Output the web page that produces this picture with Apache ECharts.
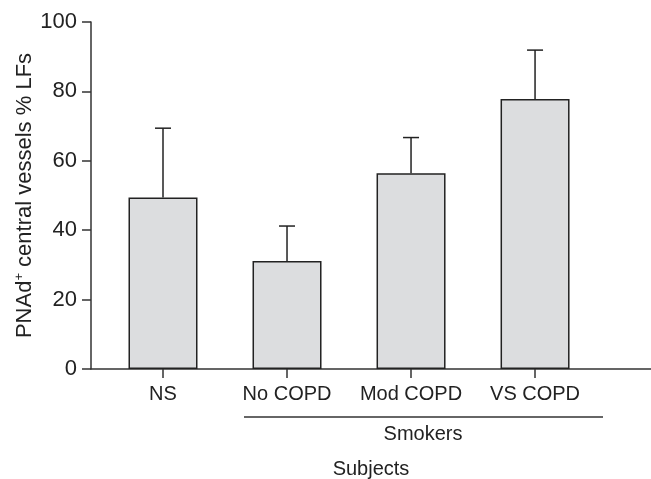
<!DOCTYPE html>
<html>
<head>
<meta charset="utf-8">
<script src="https://cdn.jsdelivr.net/npm/echarts@6/dist/echarts.min.js"></script>
<style>
  html, body { margin: 0; padding: 0; background: #fff; }
  #main { width: 651px; height: 479px; }
</style>
</head>
<body>
<div id="main"></div>
<script>
// groups on the x axis
var categories = ['NS', 'No COPD', 'Mod COPD', 'VS COPD'];
// bar heights (mean) and top of error bar
var means = [49.4, 31.1, 56.4, 77.8];
var upper = [69.4, 41.2, 66.7, 91.9];
var yTicks = [0, 20, 40, 60, 80, 100];

var ink = '#222';
var font = 'Liberation Sans, Arial, sans-serif';
var chart = echarts.init(document.getElementById('main'));

var barData = means.map(function (v, i) { return [i, v]; });
var errData = means.map(function (v, i) { return [i, v, upper[i]]; });

chart.setOption({
  animation: false,
  grid: { left: 91, right: 0, top: 22, bottom: 110, outerBoundsMode: 'none', containLabel: false },
  xAxis: {
    type: 'value',
    min: -0.5806,
    max: 3.935,
    splitLine: { show: false },
    axisLine: { show: true, onZero: false, lineStyle: { color: '#333', width: 1.5 } },
    axisTick: { show: true, length: 9, customValues: [0, 1, 2, 3], lineStyle: { color: '#333', width: 1.5 } },
    axisLabel: {
      customValues: [0, 1, 2, 3],
      margin: 15,
      fontSize: 20,
      fontFamily: font,
      color: ink,
      formatter: function (v) { return categories[Math.round(v)]; }
    },
    name: 'Subjects',
    nameLocation: 'middle',
    nameGap: 90,
    nameMoveOverlap: false,
    nameTextStyle: { fontSize: 20, fontFamily: font, color: ink }
  },
  yAxis: {
    type: 'value',
    min: yTicks[0],
    max: yTicks[yTicks.length - 1],
    interval: 20,
    splitLine: { show: false },
    axisLine: { show: true, onZero: false, lineStyle: { color: '#333', width: 1.5 } },
    axisTick: { show: true, length: 9, lineStyle: { color: '#333', width: 1.5 } },
    axisLabel: {
      margin: 14,
      fontSize: 22,
      fontFamily: font,
      color: ink
    },
    name: 'PNAd{sup|+} central vessels % LFs',
    nameLocation: 'middle',
    nameGap: 54,
    nameMoveOverlap: false,
    nameTextStyle: {
      fontSize: 22,
      fontFamily: font,
      color: ink,
      rich: {
        sup: { fontSize: 13, fontFamily: font, color: ink, padding: [0, 0, 11, 0] }
      }
    }
  },
  series: [
    {
      type: 'bar',
      data: barData,
      barWidth: 69,
      itemStyle: { color: '#dcdddf', borderColor: ink, borderWidth: 1.5 },
      z: 2
    },
    {
      type: 'custom',
      data: errData,
      z: 1,
      renderItem: function (params, api) {
        var base = api.coord([api.value(0), api.value(1)]);
        var top = api.coord([api.value(0), api.value(2)]);
        return {
          type: 'group',
          children: [
            { type: 'line', shape: { x1: top[0], y1: base[1], x2: top[0], y2: top[1] }, style: { stroke: ink, lineWidth: 1.5 } },
            { type: 'line', shape: { x1: top[0] - 8, y1: top[1], x2: top[0] + 8, y2: top[1] }, style: { stroke: ink, lineWidth: 1.5 } }
          ]
        };
      }
    }
  ]
});

// "Smokers" bracket under the last three groups
var p1 = chart.convertToPixel({ gridIndex: 0 }, [0.653, 0]);
var p2 = chart.convertToPixel({ gridIndex: 0 }, [3.548, 0]);
var pc = chart.convertToPixel({ gridIndex: 0 }, [2.097, 0]);
chart.setOption({
  graphic: [
    { type: 'line', shape: { x1: p1[0], y1: p1[1] + 48, x2: p2[0], y2: p2[1] + 48 }, style: { stroke: '#333', lineWidth: 1.5 } },
    { type: 'text', x: pc[0], y: pc[1] + 65, style: { text: 'Smokers', fontSize: 20, fontFamily: font, fill: ink, align: 'center', verticalAlign: 'middle' } }
  ]
});
</script>
</body>
</html>
